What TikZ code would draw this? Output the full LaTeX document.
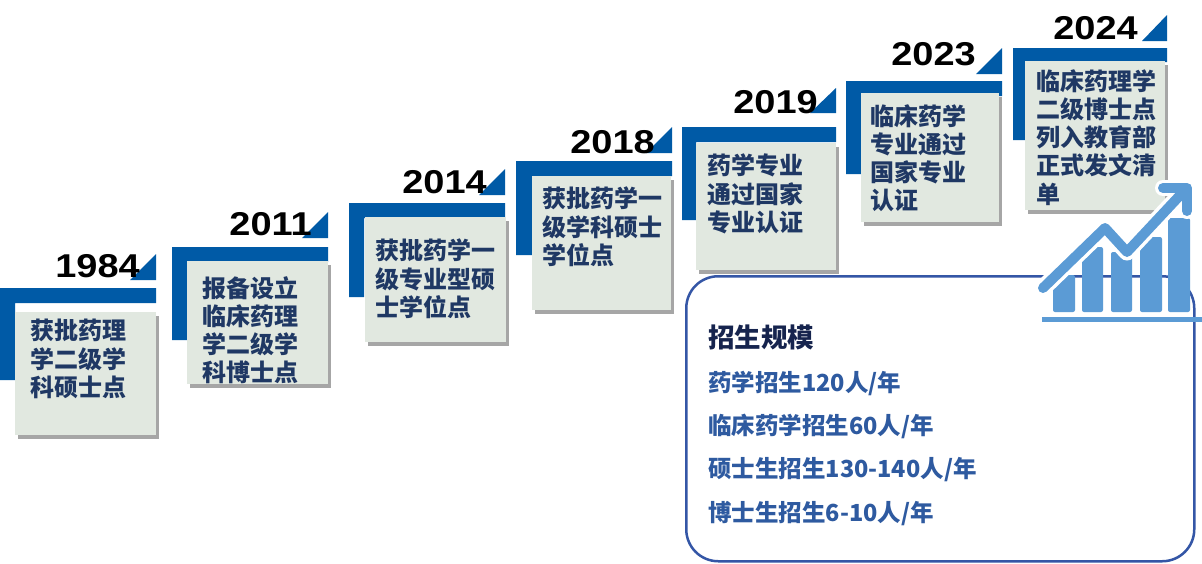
\documentclass[tikz,border=0pt]{standalone}
\usepackage{fontspec}
\setmainfont{Liberation Sans}
\newfontfamily\cjk{Noto Sans CJK SC}
\usetikzlibrary{shadows}
\definecolor{stepblue}{RGB}{0,90,166}
\definecolor{cardgrey}{RGB}{225,232,224}
\definecolor{cardink}{RGB}{31,56,100}
\definecolor{headink}{RGB}{22,36,78}
\definecolor{listink}{RGB}{46,90,160}
\definecolor{frameblue}{RGB}{52,86,166}
\definecolor{chartblue}{RGB}{91,155,213}
\tikzset{
  card/.style={fill=cardgrey, inner sep=0pt, anchor=north west,
    drop shadow={shadow xshift=3pt, shadow yshift=-4pt, opacity=0.35, fill=black}},
  cardtext/.style={anchor=north west, inner sep=0pt, align=left, text=cardink,
    font=\cjk\bfseries\fontsize{24}{28.3}\selectfont},
  year/.style={anchor=base east, inner sep=0pt, xscale=1.15,
    font=\bfseries\fontsize{33}{33}\selectfont},
  listline/.style={anchor=north west, inner sep=0pt, text=listink,
    font=\cjk\bfseries\fontsize{23.5}{23.5}\selectfont},
  chartline/.style={line width=10pt, line cap=round, line join=round},
}

\begin{document}
\begin{tikzpicture}[x=1pt, y=-1pt]
  \useasboundingbox (0,0) rectangle (1202,563);
  \fill[white] (0,0) rectangle (1202,563);

  % 1984
  \fill[stepblue] (0,288) -| (156,303) -| (15,380) -| cycle;
  \fill[stepblue] (130,280) -- (156,254) -- (156,280) -- cycle;
  \node[card, minimum width=141pt, minimum height=123pt] (c1984) at (15,312) {};
  \node[cardtext] (t1984) at (30,319) {获批药理\\学二级学\\科硕士点};
  \node[year] (y1984) at (140,277) {1984};

  % 2011
  \fill[stepblue] (172,247) -| (328,262) -| (187,340) -| cycle;
  \fill[stepblue] (302,238) -- (328,212) -- (328,238) -- cycle;
  \node[card, minimum width=141pt, minimum height=123pt] (c2011) at (187,261) {};
  \node[cardtext] (t2011) at (202,276) {报备设立\\临床药理\\学二级学\\科博士点};
  \node[year] (y2011) at (312,235) {2011};

  % 2014
  \fill[stepblue] (349,203) -| (505,218) -| (364,297) -| cycle;
  \fill[stepblue] (479,195) -- (505,169) -- (505,195) -- cycle;
  \node[card, minimum width=141pt, minimum height=125pt] (c2014) at (365,217) {};
  \node[cardtext] (t2014) at (375,239) {获批药学一\\级专业型硕\\士学位点};
  \node[year] (y2014) at (487,193) {2014};

  % 2018
  \fill[stepblue] (516,161) -| (672,176) -| (532,255) -| cycle;
  \fill[stepblue] (646,153) -- (672,127) -- (672,153) -- cycle;
  \node[card, minimum width=139pt, minimum height=134pt] (c2018) at (532,176) {};
  \node[cardtext] (t2018) at (542,187) {获批药学一\\级学科硕士\\学位点};
  \node[year] (y2018) at (655,153) {2018};

  % 2019
  \fill[stepblue] (682,127) -| (836,142) -| (696,220) -| cycle;
  \fill[stepblue] (810,113) -- (836,88) -- (836,113) -- cycle;
  \node[card, minimum width=140pt, minimum height=127pt] (c2019) at (696,143) {};
  \node[cardtext] (t2019) at (707,154) {药学专业\\通过国家\\专业认证};
  \node[year] (y2019) at (818,113) {2019};

  % 2023
  \fill[stepblue] (846,81) -| (1002,96) -| (861,174) -| cycle;
  \fill[stepblue] (976,74) -- (1002,48) -- (1002,74) -- cycle;
  \node[card, minimum width=138pt, minimum height=129pt] (c2023) at (861,93) {};
  \node[cardtext] (t2023) at (870,104) {临床药学\\专业通过\\国家专业\\认证};
  \node[year] (y2023) at (976,65) {2023};

  % 2024
  \fill[stepblue] (1013,48) -| (1167,62) -| (1025,140) -| cycle;
  \fill[stepblue] (1142,41) -- (1167,15) -- (1167,41) -- cycle;
  \node[card, minimum width=140pt, minimum height=149pt] (c2024) at (1025,61) {};
  \node[cardtext] (t2024) at (1036,69) {临床药理学\\二级博士点\\列入教育部\\正式发文清\\单};
  \node[year] (y2024) at (1138,39) {2024};

  % Enrolment box
  \node[draw=frameblue, line width=2.5pt, rounded corners=32pt, anchor=north west,
    minimum width=508pt, minimum height=285pt] (enrol) at (685,275) {};
  \node[anchor=north west, inner sep=0pt, text=headink,
    font=\cjk\bfseries\fontsize{26.5}{26.5}\selectfont] (enrolhead) at (708,325) {招生规模};
  \node[listline] (l1) at (708,371) {药学招生120人/年};
  \node[listline] (l2) at (708,414) {临床药学招生60人/年};
  \node[listline] (l3) at (708,457) {硕士生招生130-140人/年};
  \node[listline] (l4) at (708,501) {博士生招生6-10人/年};

  % Growth chart
  \begin{scope}
    \clip (1030,300) -- (1043,288) -- (1105,228) -- (1127,252) -- (1187,195)
      -- (1210,180) -- (1210,330) -- (1030,330) -- cycle;
    \fill[chartblue, rounded corners=2pt] (1053,275) rectangle (1075,312);
    \fill[chartblue, rounded corners=2pt] (1082,247) rectangle (1103,312);
    \fill[chartblue, rounded corners=2pt] (1111,252) rectangle (1132,312);
    \fill[chartblue, rounded corners=2pt] (1140,237) rectangle (1162,312);
    \fill[chartblue, rounded corners=2pt] (1168,218) rectangle (1190,312);
  \end{scope}
  \draw[chartline, white, line width=17pt] (1043,288) -- (1105,228) -- (1127,252) -- (1185,190);
  \draw[chartline, white, line width=16pt] (1163,188) -- (1187,188) -- (1187,211);
  \draw[chartline, chartblue] (1043,288) -- (1105,228) -- (1127,252) -- (1185,190);
  \draw[chartline, chartblue] (1163,188) -- (1187,188) -- (1187,211);
  \fill[chartblue] (1042,317) rectangle (1202,322);
\end{tikzpicture}
\end{document}
